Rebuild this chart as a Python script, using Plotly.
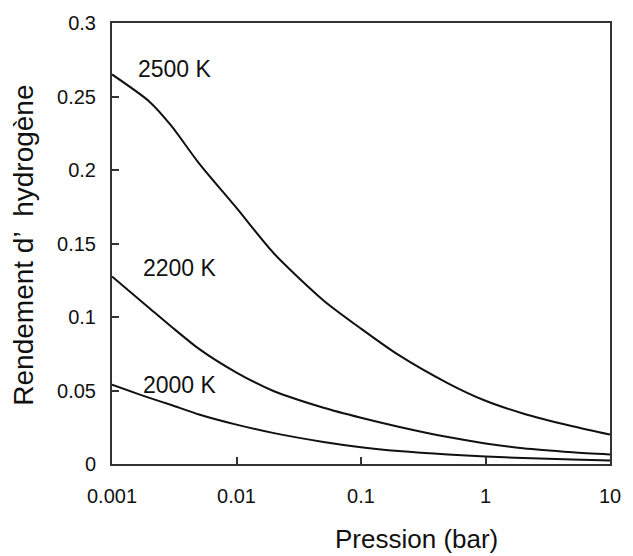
import plotly.graph_objects as go

pression = [0.001, 0.002, 0.003, 0.005, 0.01, 0.02, 0.05, 0.1, 0.2, 0.5, 1, 2, 5, 10]
rendement_2500 = [0.265, 0.2465, 0.230, 0.2045, 0.1742, 0.1432, 0.1113, 0.0921, 0.0742, 0.0549, 0.043, 0.0344, 0.0257, 0.020]
rendement_2200 = [0.1276, 0.106, 0.0934, 0.0783, 0.0622, 0.0495, 0.0383, 0.0315, 0.0254, 0.0183, 0.014, 0.0107, 0.0080, 0.0065]
rendement_2000 = [0.054, 0.0450, 0.0401, 0.0337, 0.0268, 0.0210, 0.0150, 0.0114, 0.0088, 0.0064, 0.0051, 0.0041, 0.0030, 0.0023]

curve_labels = ["2500 K", "2200 K", "2000 K"]
x_ticks = [0.001, 0.01, 0.1, 1, 10]
x_ticktext = ["0.001", "0.01", "0.1", "1", "10"]
y_ticks = [0, 0.05, 0.1, 0.15, 0.2, 0.25, 0.3]
y_ticktext = ["0", "0.05", "0.1", "0.15", "0.2", "0.25", "0.3"]

FONT = "Liberation Sans, Arial, Helvetica, sans-serif"

fig = go.Figure()
for ys in (rendement_2500, rendement_2200, rendement_2000):
    fig.add_trace(go.Scatter(x=pression, y=ys, mode="lines",
                             line=dict(color="#111111", width=2, shape="spline", smoothing=0.7),
                             showlegend=False, hoverinfo="skip"))

label_pos = [(0.0486, 0.269), (0.058, 0.133), (0.058, 0.054)]
for txt, (px, py) in zip(curve_labels, label_pos):
    fig.add_annotation(text=txt, xref="paper", yref="y", x=px, y=py,
                       xanchor="left", yanchor="middle", showarrow=False,
                       font=dict(family=FONT, size=23, color="#111111"))

fig.add_annotation(text="Pression (bar)", xref="paper", yref="paper", x=0.611, y=-0.171,
                   xanchor="center", yanchor="middle", showarrow=False,
                   font=dict(family=FONT, size=26, color="#111111"))
fig.add_annotation(text="Rendement d\u2019  hydrog\u00e8ne", xref="paper", yref="paper", x=-0.177, y=0.497,
                   xanchor="center", yanchor="middle", textangle=-90, showarrow=False,
                   font=dict(family=FONT, size=28, color="#111111"))

fig.update_xaxes(type="log", range=[-3, 1], tickvals=x_ticks, ticktext=x_ticktext,
                 ticks="inside", ticklen=7, tickwidth=1.5, tickcolor="#333333",
                 showline=True, linecolor="#333333", linewidth=2, mirror=True,
                 showgrid=False, zeroline=False, ticklabelstandoff=13,
                 tickfont=dict(family=FONT, size=20, color="#111111"))
fig.update_yaxes(range=[0, 0.3], tickvals=y_ticks, ticktext=y_ticktext,
                 ticks="inside", ticklen=7, tickwidth=1.5, tickcolor="#333333",
                 showline=True, linecolor="#333333", linewidth=2, mirror=True,
                 showgrid=False, zeroline=False, ticklabelstandoff=10,
                 tickfont=dict(family=FONT, size=20, color="#111111"))

fig.update_layout(width=633, height=556, margin=dict(l=112, r=16, t=20, b=92),
                  plot_bgcolor="white", paper_bgcolor="white")

fig.write_html("out.html", config={"displayModeBar": False},
               post_script="document.body.style.margin='0';document.body.style.padding='0';")
